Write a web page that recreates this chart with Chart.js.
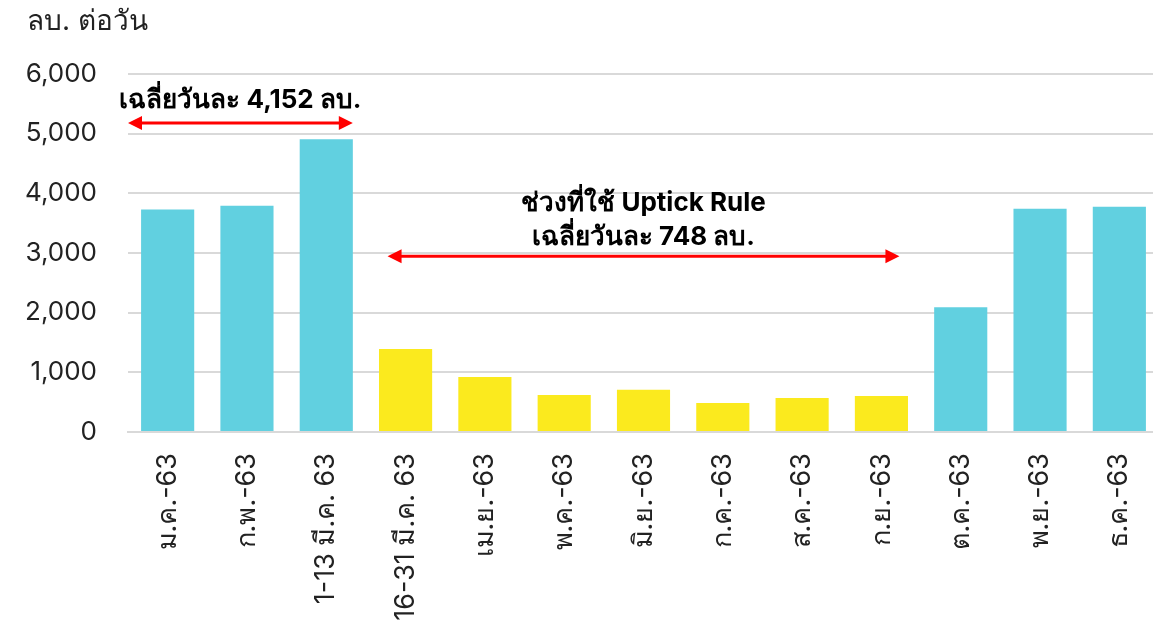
<!DOCTYPE html>
<html>
<head>
<meta charset="utf-8">
<script src="https://cdn.jsdelivr.net/npm/chart.js@4"></script>
<style>
  html, body { margin: 0; padding: 0; background: #fff; }
  #wrap { width: 1153px; height: 629px; position: relative; overflow: hidden; }
  #inner { width: 1159px; height: 629px; }
</style>
</head>
<body>
<div id="wrap"><div id="inner"><canvas id="c"></canvas></div></div>
<script>
// Daily short-selling value (million baht per day)
const categories = [ 'ม.ค.-63', 'ก.พ.-63', '1-13 มี.ค. 63', '16-31 มี.ค. 63', 'เม.ย.-63', 'พ.ค.-63', 'มิ.ย.-63', 'ก.ค.-63', 'ส.ค.-63', 'ก.ย.-63', 'ต.ค.-63', 'พ.ย.-63', 'ธ.ค.-63' ];
const values = [ 3730, 3790, 4905, 1390, 920, 620, 710, 485, 570, 605, 2090, 3740, 3775 ];
const uptick = [ false, false, false, true, true, true, true, true, true, true, false, false, false ];
const yTicks = [ 0, 1000, 2000, 3000, 4000, 5000, 6000 ];
const unitLabel = 'ลบ. ต่อวัน';
const noteBefore = 'เฉลี่ยวันละ 4,152 ลบ.';
const noteUptick = [ 'ช่วงที่ใช้ Uptick Rule', 'เฉลี่ยวันละ 748 ลบ.' ];

const FONT = 'Inter, "Noto Sans", sans-serif';
const CYAN = '#61d0e0';
const YELLOW = '#fbea1e';
const RED = '#ff0000';

function arrow( ctx, x1, x2, y ) {
	const head = 14, half = 7;
	ctx.save();
	ctx.strokeStyle = RED;
	ctx.fillStyle = RED;
	ctx.lineWidth = 3;
	ctx.beginPath();
	ctx.moveTo( x1 + head - 2, y );
	ctx.lineTo( x2 - head + 2, y );
	ctx.stroke();
	ctx.beginPath();
	ctx.moveTo( x1, y ); ctx.lineTo( x1 + head, y - half ); ctx.lineTo( x1 + head, y + half ); ctx.closePath();
	ctx.fill();
	ctx.beginPath();
	ctx.moveTo( x2, y ); ctx.lineTo( x2 - head, y - half ); ctx.lineTo( x2 - head, y + half ); ctx.closePath();
	ctx.fill();
	ctx.restore();
}

// Unit title, arrows and the two average notes.
const notes = {
	id: 'notes',
	afterDraw( chart ) {
		const { ctx, chartArea } = chart;
		const x = chart.scales.x, y = chart.scales.y;
		const meta = chart.getDatasetMeta( 0 );
		const halfBar = meta.data[ 0 ].width / 2;

		ctx.save();
		ctx.fillStyle = '#222';
		ctx.font = '28px ' + FONT;
		ctx.textBaseline = 'middle';
		ctx.textAlign = 'left';
		ctx.fillText( unitLabel, 27, 22 );

		// before Uptick Rule
		const a1 = chartArea.left, a2 = x.getPixelForValue( 2 ) + halfBar;
		arrow( ctx, a1, a2, y.getPixelForValue( 5180 ) );
		ctx.fillStyle = '#000';
		ctx.font = 'bold 26px ' + FONT;
		ctx.textAlign = 'center';
		ctx.fillText( noteBefore, ( a1 + a2 ) / 2, y.getPixelForValue( 5560 ) );

		// Uptick Rule period
		const b1 = x.getPixelForValue( 3 ) - 18, b2 = x.getPixelForValue( 9 ) + 18;
		arrow( ctx, b1, b2, y.getPixelForValue( 2945 ) );
		ctx.fillText( noteUptick[ 0 ], ( b1 + b2 ) / 2, y.getPixelForValue( 3840 ) );
		ctx.fillText( noteUptick[ 1 ], ( b1 + b2 ) / 2, y.getPixelForValue( 3270 ) );
		ctx.restore();
	},
};

new Chart( document.getElementById( 'c' ), {
	type: 'bar',
	data: {
		labels: categories,
		datasets: [ {
			data: values,
			backgroundColor: uptick.map( ( u ) => ( u ? YELLOW : CYAN ) ),
			borderWidth: 0,
			barPercentage: 0.67,
			categoryPercentage: 1,
		} ],
	},
	options: {
		responsive: true,
		maintainAspectRatio: false,
		animation: false,
		layout: { padding: { top: 74, right: 0, left: 0, bottom: 0 } },
		plugins: { legend: { display: false }, tooltip: { enabled: false }, title: { display: false } },
		scales: {
			x: {
				grid: { display: false, drawTicks: false },
				border: { display: true, color: '#d9d9d9', width: 2 },
				ticks: {
					autoSkip: false, minRotation: 90, maxRotation: 90, padding: 21,
					color: '#222', font: { family: FONT, size: 27 },
				},
				afterFit: ( s ) => { s.height = 197; s.paddingLeft = 0; s.paddingRight = 0; },
			},
			y: {
				min: 0, max: 6000,
				afterBuildTicks: ( s ) => { s.ticks = yTicks.map( ( v ) => ( { value: v } ) ); },
				grid: { color: '#d9d9d9', lineWidth: 2, drawTicks: false },
				border: { display: false },
				ticks: {
					padding: 31, color: '#222', font: { family: FONT, size: 26 },
					callback: ( v ) => v.toLocaleString( 'en-US' ),
				},
				afterFit: ( s ) => { s.width = 128; },
			},
		},
	},
	plugins: [ notes ],
} );
</script>
</body>
</html>
